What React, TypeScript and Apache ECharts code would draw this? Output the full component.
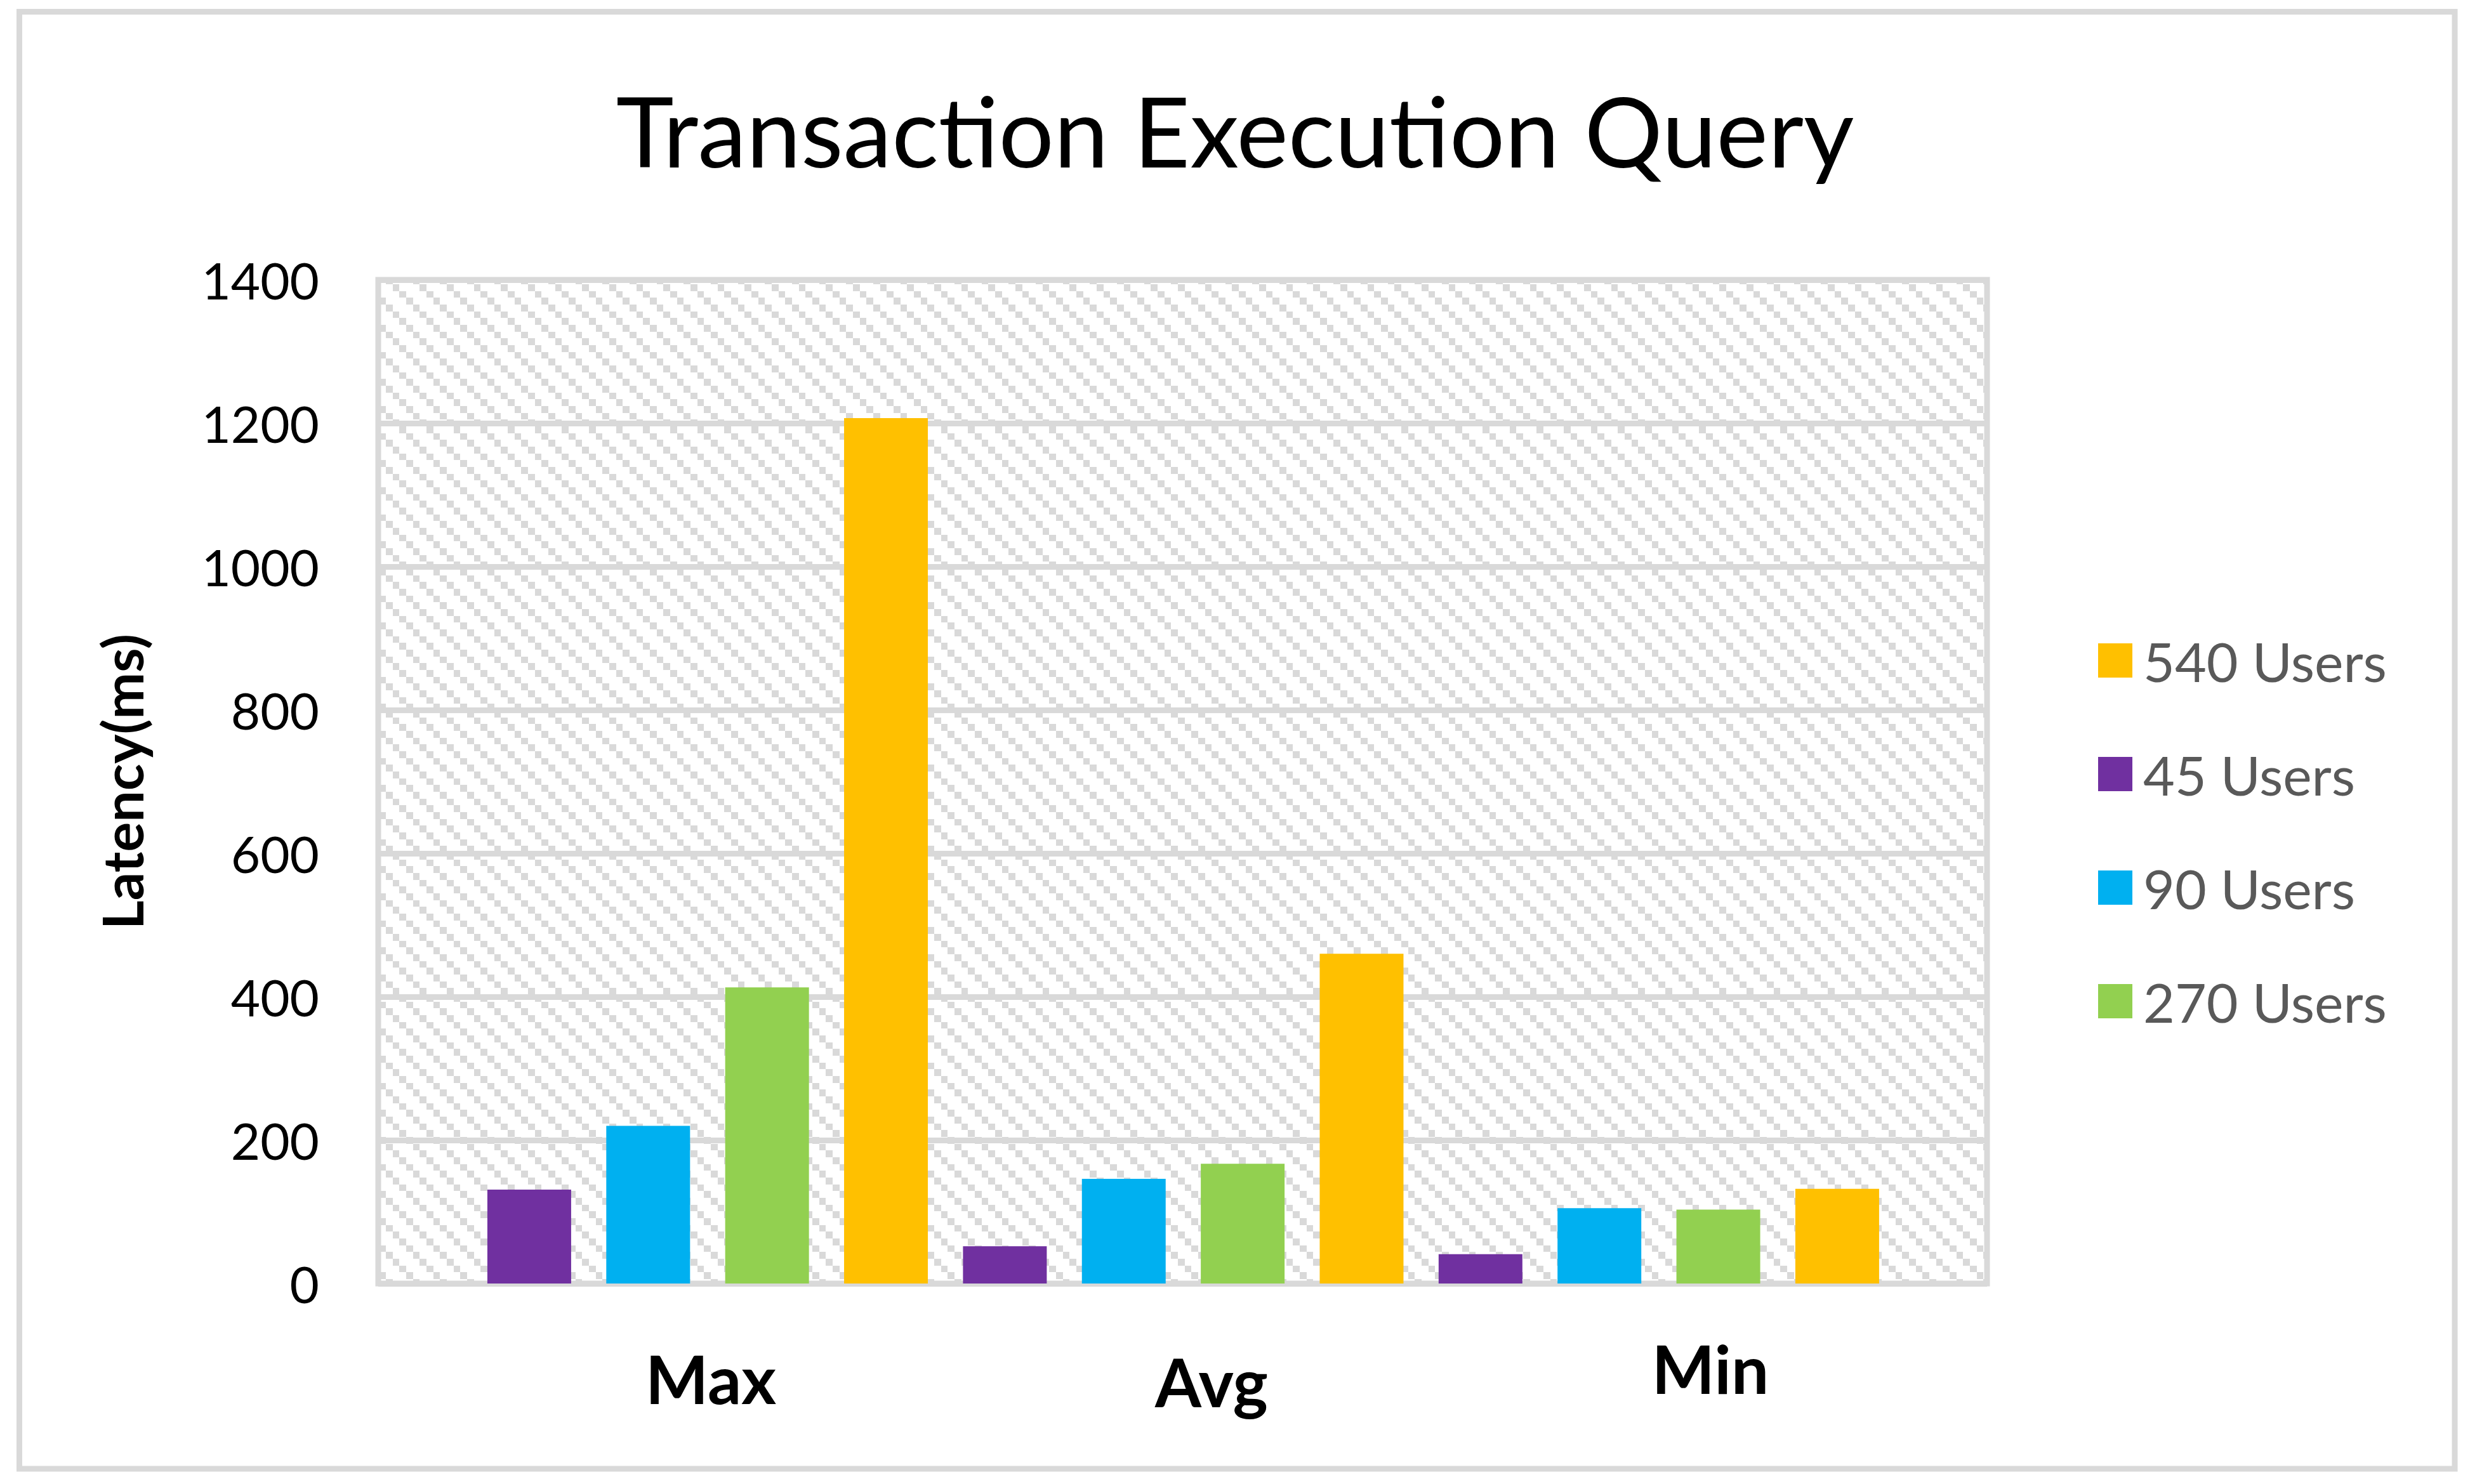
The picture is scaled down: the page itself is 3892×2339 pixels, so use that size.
import React, { useEffect, useRef } from "react";
import * as echarts from "echarts";

// ---- data ----
const categories = ["Max", "Avg", "Min"];
const seriesNames = ["45 Users", "90 Users", "270 Users", "540 Users"];
const users45 = [131, 52, 41];
const users90 = [220, 146, 105];
const users270 = [413, 167, 103];
const users540 = [1207, 460, 132];
const legendOrder = ["540 Users", "45 Users", "90 Users", "270 Users"];
const yMin = 0;
const yMax = 1400;
const yInterval = 200;

// ---- styling / layout ----
const colors = ["#7030A0", "#00B0F0", "#92D050", "#FFC000"];
const labelX = [1120, 1909, 2695];
const labelY = [2172, 2177, 2156];
const FONT = "Lato";

function makeHatch() {
  const size = 128;
  const cv = document.createElement("canvas");
  cv.width = size;
  cv.height = size;
  const ctx = cv.getContext("2d")!;
  ctx.fillStyle = "#ffffff";
  ctx.fillRect(0, 0, size, size);
  ctx.fillStyle = "#D9D9D9";
  const b: number[] = [];
  for (let k = 0; k <= 12; k++) b.push(Math.round((k * size) / 12));
  for (let r = 0; r < 12; r++) {
    for (let c = 0; c < 12; c++) {
      if ((c - r + 12) % 4 === 0) {
        ctx.fillRect(b[c], b[r], b[c + 1] - b[c], b[r + 1] - b[r]);
      }
    }
  }
  return { image: cv, repeat: "repeat", x: 121, y: 59 };
}

export default function App() {
  const ref = useRef<HTMLDivElement>(null);
  useEffect(() => {
    if (!ref.current) return;
    const chart = echarts.init(ref.current, null, { renderer: "svg" });
    const allValues = [users45, users90, users270, users540];
    const nSeries = seriesNames.length;
    const series = seriesNames.map((name, s) => ({
      name,
      type: "bar",
      barWidth: 132,
      barGap: "-100%",
      itemStyle: { color: colors[s] },
      data: categories.map((_, g) => [g * nSeries + s, allValues[s][g]]),
    }));
    const option: any = {
      animation: false,
      backgroundColor: "#ffffff",
      title: {
        text: "Transaction Execution Query",
        left: "center",
        top: 122,
        textStyle: { fontFamily: FONT, fontWeight: "normal", fontSize: 154, color: "#000000" },
      },
      legend: {
        orient: "vertical",
        left: 3301,
        top: 986,
        itemWidth: 54,
        itemHeight: 54,
        itemGap: 79,
        icon: "rect",
        data: legendOrder,
        textStyle: {
          fontFamily: FONT,
          fontSize: 86,
          color: "#595959",
          lineHeight: 100,
          padding: [0, 0, 0, 12],
        },
      },
      grid: {
        left: 596,
        right: 761,
        top: 441,
        bottom: 316,
        show: true,
        backgroundColor: makeHatch(),
        borderColor: "#D9D9D9",
        borderWidth: 9,
      },
      xAxis: {
        type: "value",
        min: -1.27,
        max: 12.26,
        show: false,
      },
      yAxis: {
        type: "value",
        min: yMin,
        max: yMax,
        interval: yInterval,
        name: "Latency(ms)",
        nameLocation: "middle",
        nameGap: 360,
        nameTextStyle: { fontFamily: FONT, fontWeight: "bold", fontSize: 88, color: "#000000" },
        axisLine: { show: false },
        axisTick: { show: false },
        axisLabel: {
          margin: 93,
          fontFamily: FONT,
          fontSize: 80,
          color: "#000000",
          padding: [0, 0, 12, 0],
          formatter: (v: number) => String(v),
        },
        splitLine: { lineStyle: { color: "#D9D9D9", width: 9 } },
      },
      series,
      graphic: [
        {
          type: "rect",
          shape: { x: 30.5, y: 18.5, width: 3837.5, height: 2296.5 },
          style: { fill: "none", stroke: "#D9D9D9", lineWidth: 9 },
          silent: true,
        },
        ...categories.map((c, i) => ({
          type: "text",
          x: labelX[i],
          y: labelY[i],
          style: {
            text: c,
            fontFamily: FONT,
            fontWeight: "bold",
            fontSize: 105,
            fill: "#000000",
            align: "center",
            verticalAlign: "middle",
          },
        })),
      ],
    };
    chart.setOption(option);
    return () => chart.dispose();
  }, []);
  return (
    <div
      ref={ref}
      style={{ position: "absolute", left: 0, top: 0, width: 3892, height: 2339 }}
    />
  );
}
